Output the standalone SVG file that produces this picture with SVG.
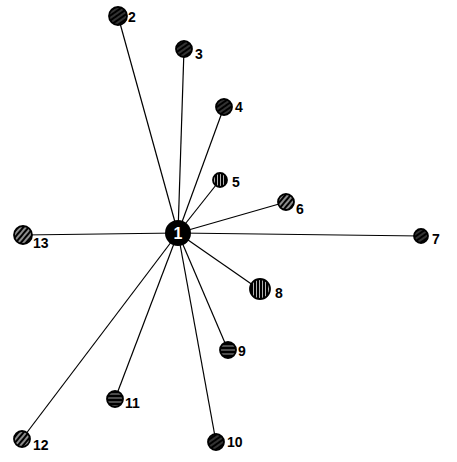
<svg xmlns="http://www.w3.org/2000/svg" width="457" height="462" viewBox="0 0 457 462">
<defs>
<pattern id="hd" width="4" height="4" patternUnits="userSpaceOnUse" patternTransform="rotate(-35)"><rect width="4" height="4" fill="#000"/><line x1="0" y1="2" x2="4" y2="2" stroke="#fff" stroke-width="0.4"/></pattern>
<pattern id="hl" width="4" height="4" patternUnits="userSpaceOnUse" patternTransform="rotate(-50)"><rect width="4" height="4" fill="#000"/><line x1="0" y1="2" x2="4" y2="2" stroke="#fff" stroke-width="1.1"/></pattern>
<pattern id="hv" width="3" height="3" patternUnits="userSpaceOnUse"><rect width="3" height="3" fill="#000"/><line x1="1.5" y1="0" x2="1.5" y2="3" stroke="#fff" stroke-width="0.7"/></pattern>
<pattern id="hh" width="4" height="4" patternUnits="userSpaceOnUse"><rect width="4" height="4" fill="#000"/><line x1="0" y1="2" x2="4" y2="2" stroke="#fff" stroke-width="0.6"/></pattern>
</defs>
<style>
.e{stroke:#000;stroke-width:1.2;fill:none}
.n{stroke:#000;stroke-width:1.8}
.t{font-family:"Liberation Sans",Arial,sans-serif;font-size:14px;font-weight:bold;fill:#000}
</style>
<rect width="457" height="462" fill="#fff"/>
<g id="connectors">
<line class="e" x1="178" y1="233" x2="118" y2="16"/>
<line class="e" x1="178" y1="233" x2="184" y2="49"/>
<line class="e" x1="178" y1="233" x2="224" y2="107"/>
<line class="e" x1="178" y1="233" x2="220" y2="180"/>
<line class="e" x1="178" y1="233" x2="286" y2="202"/>
<line class="e" x1="178" y1="233" x2="421" y2="236"/>
<line class="e" x1="178" y1="233" x2="260" y2="290"/>
<line class="e" x1="178" y1="233" x2="228" y2="350"/>
<line class="e" x1="178" y1="233" x2="216" y2="442"/>
<line class="e" x1="178" y1="233" x2="115" y2="399"/>
<line class="e" x1="178" y1="233" x2="22" y2="439"/>
<line class="e" x1="178" y1="233" x2="23" y2="235"/>
</g>
<g id="n1"><circle cx="178" cy="233" r="13" fill="#000"/><text x="178" y="239" text-anchor="middle" style="font-family:'Liberation Sans',Arial,sans-serif;font-size:16px;font-weight:bold;fill:#fff">1</text></g>
<g id="n2"><circle class="n" cx="118" cy="16" r="9" fill="url(#hd)"/><text class="t" x="128" y="22">2</text></g>
<g id="n3"><circle class="n" cx="184" cy="49" r="8" fill="url(#hd)"/><text class="t" x="195" y="59">3</text></g>
<g id="n4"><circle class="n" cx="224" cy="107" r="8" fill="url(#hd)"/><text class="t" x="235" y="112">4</text></g>
<g id="n5"><circle class="n" cx="220" cy="180" r="7" fill="url(#hv)"/><text class="t" x="232" y="187">5</text></g>
<g id="n6"><circle class="n" cx="286" cy="202" r="8" fill="url(#hl)"/><text class="t" x="296" y="214">6</text></g>
<g id="n7"><circle class="n" cx="421" cy="236" r="7" fill="url(#hd)"/><text class="t" x="432" y="244">7</text></g>
<g id="n8"><circle class="n" cx="260" cy="289" r="10" fill="url(#hv)"/><text class="t" x="275" y="298">8</text></g>
<g id="n9"><circle class="n" cx="228" cy="350" r="8" fill="url(#hh)"/><text class="t" x="238" y="356">9</text></g>
<g id="n10"><circle class="n" cx="216" cy="442" r="8" fill="url(#hd)"/><text class="t" x="227" y="447">10</text></g>
<g id="n11"><circle class="n" cx="115" cy="399" r="8" fill="url(#hh)"/><text class="t" x="125" y="408">11</text></g>
<g id="n12"><circle class="n" cx="22" cy="439" r="8" fill="url(#hl)"/><text class="t" x="33" y="450">12</text></g>
<g id="n13"><circle class="n" cx="23" cy="235" r="9" fill="url(#hl)"/><text class="t" x="33" y="248">13</text></g>
</svg>
